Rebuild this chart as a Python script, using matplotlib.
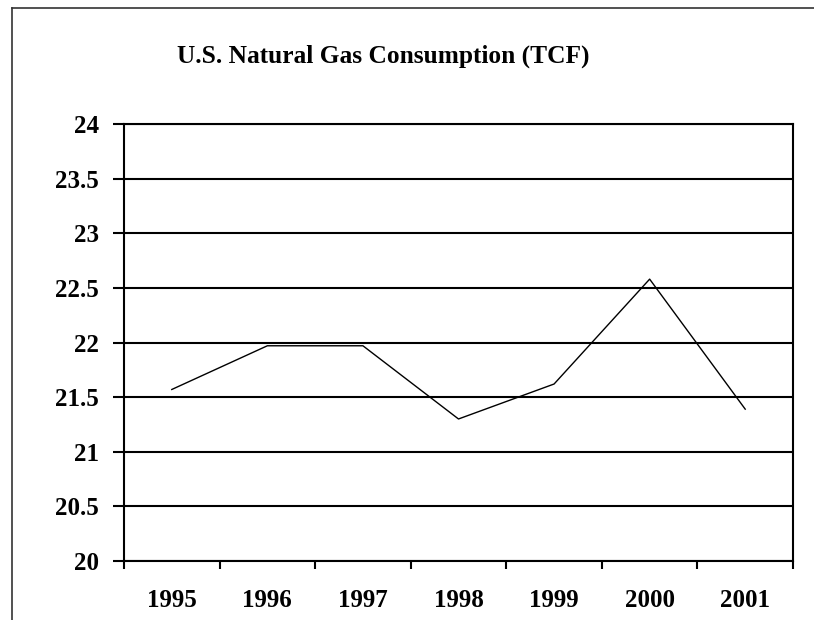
import matplotlib.pyplot as plt
import numpy as np
from matplotlib.lines import Line2D

# Data
years = ['1995', '1996', '1997', '1998', '1999', '2000', '2001']
consumption = [21.57, 21.97, 21.97, 21.30, 21.62, 22.58, 21.39]
y_ticks = [20, 20.5, 21, 21.5, 22, 22.5, 23, 23.5, 24]
y_tick_labels = ['20', '20.5', '21', '21.5', '22', '22.5', '23', '23.5', '24']

W, H = 814, 620
fig = plt.figure(figsize=(W / 100, H / 100), dpi=100)
plt.rcParams['font.family'] = ['Liberation Serif', 'DejaVu Serif']

# outer frame (only top and left edges visible in the crop)
fig.add_artist(Line2D([11.5 / W, 11.5 / W], [0, 1 - 7.5 / H], transform=fig.transFigure,
                      color='#333333', lw=1.2))
fig.add_artist(Line2D([11.5 / W, 1], [1 - 7.5 / H, 1 - 7.5 / H], transform=fig.transFigure,
                      color='#333333', lw=1.2))

left, right, top, bottom = 124, 793, 124, 561
ax = fig.add_axes([left / W, (H - bottom) / H, (right - left) / W, (bottom - top) / H])

x = np.arange(len(years))
ax.plot(x, consumption, color='black', lw=1.0)

ax.set_xlim(-0.5, len(years) - 0.5)
ax.set_ylim(20, 24)

ax.set_yticks(y_ticks)
ax.set_yticklabels(y_tick_labels, fontsize=18, fontweight='bold')
ax.yaxis.grid(True, color='black', lw=1.5)
ax.set_axisbelow(True)

# ticks on category boundaries, labels at centers
ax.set_xticks(np.arange(len(years) + 1) - 0.5)
ax.set_xticklabels([])
ax.set_xticks(x, minor=True)
ax.set_xticklabels(years, minor=True, fontsize=18, fontweight='bold')
ax.tick_params(axis='x', which='major', direction='out', length=6, width=1.5)
ax.tick_params(axis='x', which='minor', length=0, pad=20)
ax.tick_params(axis='y', direction='out', length=8, width=1.5, pad=10)

for s in ax.spines.values():
    s.set_linewidth(1.5)
    s.set_color('black')

fig.text(383 / W, 1 - 63 / H, 'U.S. Natural Gas Consumption (TCF)', ha='center', va='baseline',
         fontsize=18.3, fontweight='bold')

fig.savefig('out.png', dpi=100)
